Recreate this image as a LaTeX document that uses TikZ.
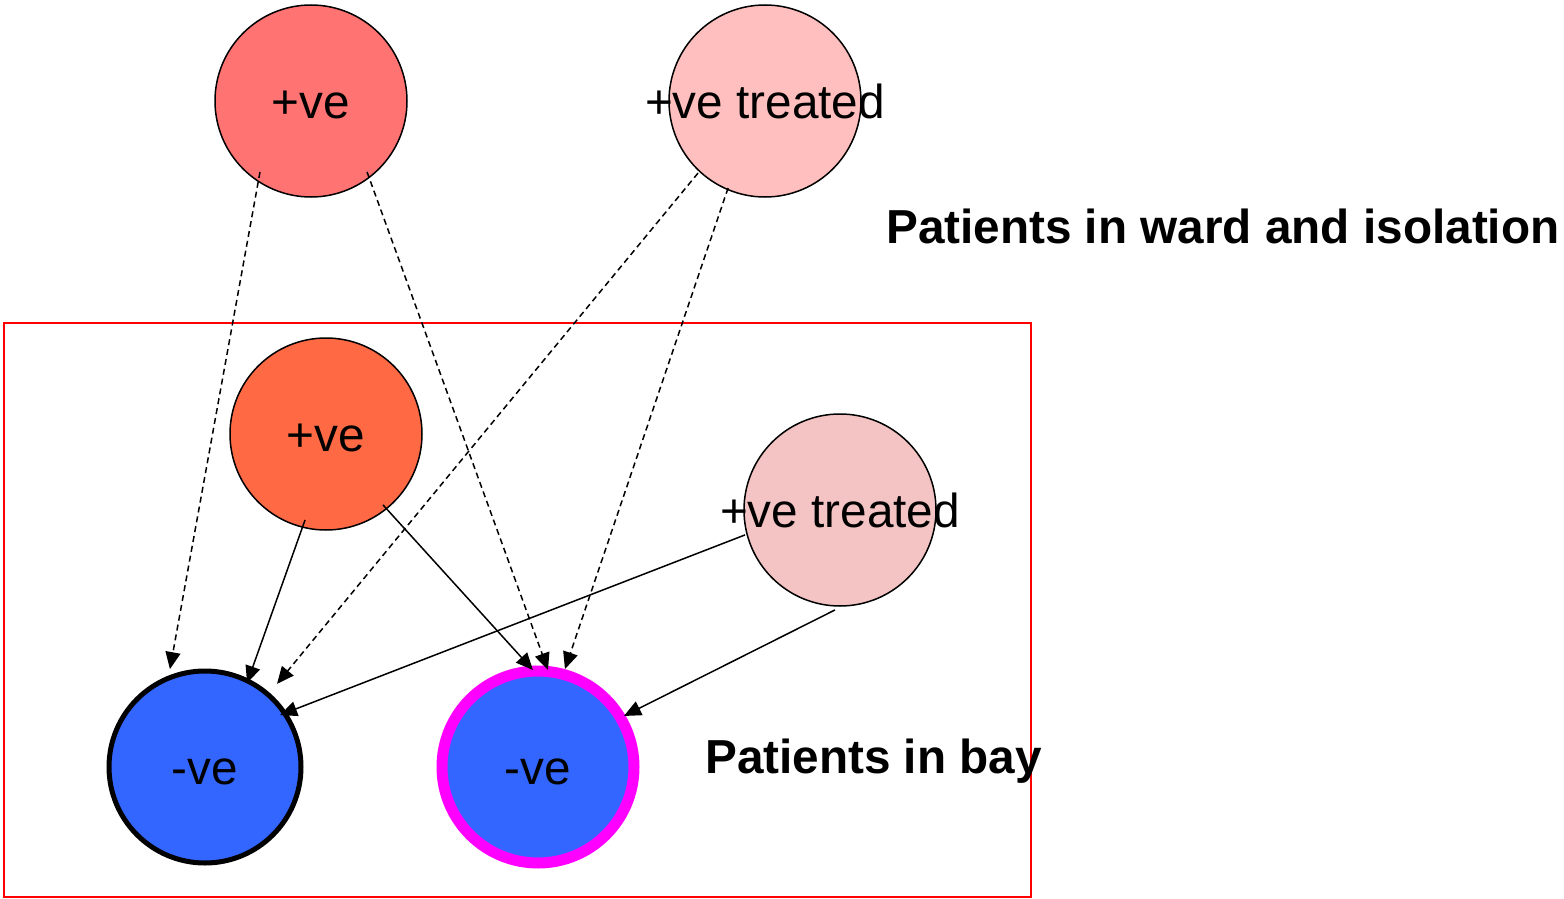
\documentclass[tikz,border=0pt]{standalone}
\usepackage{fontspec}
\setmainfont{Liberation Sans}
\usetikzlibrary{arrows.meta,calc}
\definecolor{posred}{HTML}{FF7373}
\definecolor{postreat}{HTML}{FFBFBF}
\definecolor{bayred}{HTML}{FF6A45}
\definecolor{baytreat}{HTML}{F4C4C4}
\definecolor{negblue}{HTML}{3366FF}
\definecolor{ringmag}{HTML}{FF00FF}
\tikzset{
  ball/.style={circle, draw=black, line width=1.5pt, minimum size=192pt, inner sep=0pt,
    text height=34pt, text depth=0pt, font=\fontsize{47.7}{57}\selectfont},
  conn/.style={line width=1.5pt, -{Triangle[length=17pt,width=15pt]}},
  dashconn/.style={conn, dash pattern=on 6pt off 4pt},
  caption/.style={font=\fontsize{47.7}{57}\selectfont\bfseries, inner sep=0pt}
}
\begin{document}
\begin{tikzpicture}[x=1pt,y=-1pt]
\useasboundingbox (0,0) rectangle (1564,899);
\draw[red, line width=1.5pt] (4,323) rectangle (1031,897);
\node[ball, fill=posred] (tp) at (311,101) {\makebox[0pt]{+ve}};
\node[ball, fill=postreat] (tt) at (765,101) {\makebox[0pt]{+ve treated}};
\node[ball, fill=bayred] (mp) at (326,434) {\makebox[0pt]{+ve}};
\node[ball, fill=baytreat] (mt) at (840,510) {\makebox[0pt]{+ve treated}};
\node[ball, fill=negblue, line width=5pt] (bl) at (205,767) {\makebox[0pt]{-ve}};
\node[ball, fill=negblue, draw=ringmag, line width=11pt] (br) at (538,767) {\makebox[0pt]{-ve}};
\node[caption, anchor=base west] (ward) at (886,243) {Patients in ward and isolation};
\node[caption, anchor=base west] (bay) at (705,773) {Patients in bay};
% dashed: from ward/isolation
\draw[dashconn] ($(tp)+(234.3:87.4pt)$) -- ($(bl)+(109.7:104pt)$);
\draw[dashconn] ($(tp)+(308.3:90.4pt)$) -- ($(br)+(84.1:97.5pt)$);
\draw[dashconn] ($(tt)+(227.1:98.4pt)$) -- ($(bl)+(49.1:110pt)$);
\draw[dashconn] ($(tt)+(247:94.5pt)$) -- ($(br)+(74.6:101.6pt)$);
% solid: within bay
\draw[conn] ($(mp)+(256.3:88.5pt)$) -- ($(bl)+(63.4:94pt)$);
\draw[conn] ($(mp)+(308.8:91pt)$) -- ($(br)+(93:97.1pt)$);
\draw[conn] ($(mt)+(194.7:98.2pt)$) -- ($(bl)+(34.7:91.3pt)$);
\draw[conn] ($(mt)+(267.1:100.1pt)$) -- ($(br)+(30.7:100pt)$);
\end{tikzpicture}
\end{document}
